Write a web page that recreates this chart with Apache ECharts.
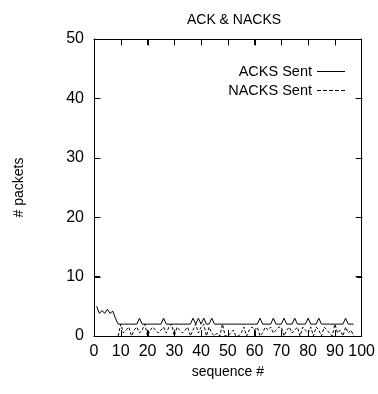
<!DOCTYPE html>
<html>
<head>
<meta charset="utf-8">
<script src="https://cdn.jsdelivr.net/npm/echarts@6/dist/echarts.min.js"></script>
<style>
html,body{margin:0;padding:0;background:#fff;}
#c{width:378px;height:394px;}
</style>
</head>
<body>
<div id="c"></div>
<script>
var titleText = 'ACK & NACKS';
var xName = 'sequence #';
var yName = '# packets';
var xTicks = [0, 10, 20, 30, 40, 50, 60, 70, 80, 90, 100];
var yTicks = [0, 10, 20, 30, 40, 50];
var ackStart = 1;
var ackValues = [5, 3.8, 4.3, 3.8, 4.5, 3.8, 4.2, 3, 2, 2,
  2, 2, 2, 2, 2, 2, 3, 2, 2, 2,
  2, 2, 2, 2, 2, 3, 2, 2, 2, 2,
  2, 2, 2, 2, 2, 2, 3, 2, 3, 2,
  3, 2, 2, 3, 2, 2, 2, 2, 2, 2,
  2, 2, 2, 2, 2, 2, 2, 2, 2, 2,
  2, 3, 2, 2, 2, 2, 3, 2, 2, 2,
  3, 2, 2, 2, 3, 2, 2, 2, 2, 3,
  2, 2, 2, 3, 2, 2, 2, 2, 2, 2,
  2, 2, 2, 3, 2, 2, 2];
var nackStart = 9;
var nackValues = [0, 2, 0.5, 1, 1.5, 0, 1, 1.5, 0.5, 1,
  2, 0, 1, 1.5, 1, 0.5, 1, 1.5, 0.5, 1.5,
  2, 0, 1.5, 1, 0.5, 1, 1.5, 0, 1, 2,
  0.5, 1.5, 2, 0, 1.5, 0.5, 0, 0.5, 0, 2,
  0, 0, 0.5, 1, 0, 0, 0.5, 1.5, 0, 1,
  1.5, 1, 1.5, 0, 0.5, 1.5, 1, 1.5, 0.5, 1,
  1.5, 1.5, 0, 1, 1.5, 0.5, 1, 1.5, 0, 1.5,
  1, 0.5, 1.5, 0, 1.5, 1, 0, 1.5, 1, 0.5,
  0, 2, 0.5, 1, 0, 1.5, 0.5, 1, 0];
var seriesNames = ['ACKS Sent', 'NACKS Sent'];

function pairs(start, vals) {
  return vals.map(function (v, i) { return [start + i, v]; });
}

var FONT = 'Liberation Sans';
var chart = echarts.init(document.getElementById('c'), null, {renderer: 'canvas'});
var axisLineStyle = {color: '#000', width: 1};
function frameAxis(pos) {
  return {
    type: 'value', position: pos,
    axisLine: {show: true, onZero: false, lineStyle: axisLineStyle},
    axisTick: {show: true, inside: true, length: 6, lineStyle: {color: '#000', width: 1}},
    axisLabel: {show: true, color: 'rgba(0,0,0,0)', fontSize: 1},
    splitLine: {show: false}
  };
}
var xTop = frameAxis('top');
xTop.min = xTicks[0]; xTop.max = xTicks[xTicks.length - 1]; xTop.interval = xTicks[1] - xTicks[0];
var yRight = frameAxis('right');
yRight.min = yTicks[0]; yRight.max = yTicks[yTicks.length - 1]; yRight.interval = yTicks[1] - yTicks[0];

var solidIcon = 'path://M0,0L28,0L28,1L0,1Z';
var dashIcon = 'path://M0,0h4v1h-4zM6,0h4v1h-4zM12,0h4v1h-4zM18,0h4v1h-4zM24,0h4v1h-4z';

chart.setOption({
  animation: false,
  backgroundColor: '#fff',
  title: {
    text: titleText,
    left: 229, top: 8,
    textAlign: 'center',
    textStyle: {fontFamily: FONT, fontSize: 14, fontWeight: 'normal', color: '#000'}
  },
  legend: {
    orient: 'vertical',
    right: 28, top: 59,
    align: 'right',
    itemWidth: 28, itemHeight: 1, itemGap: 4,
    textStyle: {fontFamily: FONT, fontSize: 14.5, color: '#000'},
    data: [
      {name: seriesNames[0], icon: solidIcon, itemStyle: {color: '#000', borderWidth: 0}},
      {name: seriesNames[1], icon: dashIcon, itemStyle: {color: '#000', borderWidth: 0}}
    ]
  },
  grid: {left: 94, right: 14, top: 39, bottom: 58, containLabel: false},
  xAxis: [{
    type: 'value', position: 'bottom',
    min: xTicks[0], max: xTicks[xTicks.length - 1], interval: xTicks[1] - xTicks[0],
    name: xName, nameLocation: 'middle', nameGap: 28,
    nameTextStyle: {fontFamily: FONT, fontSize: 14, color: '#000'},
    axisLine: {show: true, onZero: false, lineStyle: axisLineStyle},
    axisTick: {show: true, inside: true, length: 6, lineStyle: {color: '#000', width: 1}},
    axisLabel: {fontFamily: FONT, fontSize: 16, color: '#000', margin: 8},
    splitLine: {show: false}
  }, xTop],
  yAxis: [{
    type: 'value', position: 'left',
    min: yTicks[0], max: yTicks[yTicks.length - 1], interval: yTicks[1] - yTicks[0],
    name: yName, nameLocation: 'middle', nameGap: 68, nameRotate: 90,
    nameTextStyle: {fontFamily: FONT, fontSize: 14, color: '#000'},
    axisLine: {show: true, onZero: false, lineStyle: axisLineStyle},
    axisTick: {show: true, inside: true, length: 6, lineStyle: {color: '#000', width: 1}},
    axisLabel: {fontFamily: FONT, fontSize: 16, color: '#000', margin: 10},
    splitLine: {show: false}
  }, yRight],
  series: [{
    name: seriesNames[0], type: 'line', xAxisIndex: 0, yAxisIndex: 0,
    symbol: 'none', data: pairs(ackStart, ackValues),
    lineStyle: {color: '#000', width: 1, type: 'solid'},
    itemStyle: {color: '#000'}, z: 3
  }, {
    name: seriesNames[1], type: 'line', xAxisIndex: 0, yAxisIndex: 0,
    symbol: 'none', data: pairs(nackStart, nackValues),
    lineStyle: {color: '#000', width: 1, type: [3, 2]},
    itemStyle: {color: '#000'}, z: 3
  }]
});

// Extra inward tick marks drawn through the chart's own scales (fallback)
var TL = 6;
var tickEls = [];
var yMin = yTicks[0], yMax = yTicks[yTicks.length - 1];
var xMin = xTicks[0], xMax = xTicks[xTicks.length - 1];
function px(v, axis) {
  var f = axis === 'x' ? {xAxisIndex: 0} : {yAxisIndex: 0};
  return chart.convertToPixel(f, v);
}
function line(x1, y1, x2, y2) {
  return {type: 'line', silent: true, z: 100, zlevel: 0,
    shape: {x1: Math.round(x1) + 0.5, y1: Math.round(y1) + 0.5, x2: Math.round(x2) + 0.5, y2: Math.round(y2) + 0.5},
    style: {stroke: '#000', lineWidth: 1}};
}
try {
  var yB = px(yMin, 'y'), yT = px(yMax, 'y'), xL = px(xMin, 'x'), xR = px(xMax, 'x');
  xTicks.slice(1, -1).forEach(function (t) {
    var x = px(t, 'x');
    tickEls.push(line(x, yB, x, yB - TL));
    tickEls.push(line(x, yT, x, yT + TL));
  });
  yTicks.slice(1, -1).forEach(function (t) {
    var y = px(t, 'y');
    tickEls.push(line(xL, y, xL + TL, y));
    tickEls.push(line(xR, y, xR - TL, y));
  });
  chart.setOption({graphic: tickEls});
} catch (e) { console.error(e); }
</script>
</body>
</html>
